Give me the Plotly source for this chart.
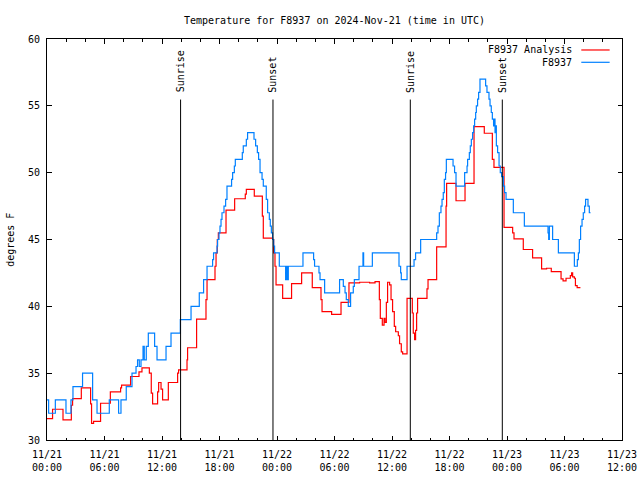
import plotly.graph_objects as go

# ---------------- data ----------------
title_text = "Temperature for F8937 on 2024-Nov-21 (time in UTC)"
y_label = "degrees F"

# hours since 2024-11-21 00:00 UTC
obs_hours = [0.0, 0.17, 0.87, 1.98, 2.50, 2.71, 3.71, 4.76, 5.22, 6.50, 7.47, 7.72, 8.27, 8.87,
             9.29, 9.45, 9.63, 9.81, 10.02, 10.15, 10.36, 10.57, 11.23, 11.48, 12.42, 12.94,
             13.91, 15.03, 15.89, 16.34, 16.70, 17.28, 17.38, 17.74, 17.80, 17.95, 18.05, 18.16,
             18.26, 18.47, 18.64, 18.78, 19.26, 19.37, 19.55, 19.65, 20.38, 20.48, 20.80, 20.93,
             21.60, 21.77, 21.95, 22.08, 22.23, 22.44, 22.57, 22.88, 23.02, 23.20, 23.30, 23.41,
             23.54, 23.65, 23.75, 24.24, 24.90, 25.00, 25.08, 25.18, 26.71, 27.82, 27.92, 28.38,
             28.49, 28.97, 30.53, 30.92, 31.10, 31.23, 31.44, 31.68, 31.96, 32.07, 32.56, 32.97,
             33.04, 33.95, 36.73, 36.90, 36.97, 37.57, 38.30, 38.46, 38.99, 40.66, 40.80, 40.94,
             41.11, 41.22, 41.35, 41.46, 41.59, 41.67, 42.37, 42.53, 42.68, 43.58, 43.83, 43.89,
             44.07, 44.17, 44.28, 44.41, 44.52, 44.62, 44.73, 44.80, 44.93, 45.04, 45.18, 45.77,
             45.91, 46.12, 46.23, 46.36, 46.47, 46.60, 46.68, 46.75, 46.81, 46.89, 47.02, 47.17,
             47.30, 47.44, 47.62, 47.75, 47.90, 48.66, 49.81, 52.28, 52.35, 52.42, 52.76, 53.36,
             55.03, 55.34, 55.45, 55.55, 55.68, 55.83, 55.96, 56.10, 56.20, 56.45, 56.59, 56.72]
obs_temps = [33, 32, 33, 32, 33, 34, 35, 33, 32, 33, 32, 33, 34, 35,
             35.5, 36, 35.5, 36, 37, 36, 37, 38, 37, 36, 37, 38,
             39, 40, 41, 42, 43, 43.5, 44, 44.5, 45, 45.5, 46, 46.5,
             47, 47.5, 48, 49, 49.5, 50, 50.5, 51, 51.5, 52, 52.5, 53,
             52.5, 52, 51.5, 51, 50, 49.5, 49, 48, 47, 46.5, 46, 45.5,
             45, 44.5, 44, 43, 42, 43, 42, 43, 44, 43.5, 43, 42.5,
             42, 41, 42, 41.5, 41, 40.5, 40, 41, 41.5, 42, 43, 44,
             43, 44, 43, 42.5, 42, 43, 43.5, 44, 45, 45.5, 46, 47,
             47.5, 48, 48.5, 49.5, 50, 51, 50.5, 50, 49, 50, 50.5, 51,
             51.5, 52, 52.5, 53, 53.5, 54, 54.5, 55, 55.5, 56, 57, 56.5,
             56, 55.5, 55, 54.5, 54, 53.5, 54, 53, 53.5, 52, 51.5, 50.5,
             50, 49.7, 49, 48.5, 48, 47, 46, 45.5, 45, 46, 45, 44,
             43, 43.5, 44, 45, 46, 46.5, 47, 47.5, 48, 47.5, 47, 47]

ana_hours = [0.0, 0.58, 1.67, 2.54, 2.67, 3.58, 4.55, 4.65, 4.86, 5.59, 6.61, 7.68, 7.78, 8.72,
             9.60, 9.91, 10.68, 10.88, 11.02, 11.54, 11.65, 11.90, 12.06, 12.66, 13.63, 13.73,
             14.61, 14.67, 15.61, 16.59, 16.70, 17.53, 17.64, 17.77, 17.88, 18.68, 19.58, 20.69,
             20.80, 21.63, 22.47, 22.57, 23.54, 23.65, 23.79, 23.90, 24.59, 25.52, 26.57, 27.68,
             28.59, 28.70, 29.70, 30.68, 31.51, 32.62, 33.66, 34.23, 34.68, 34.78, 34.99, 35.17,
             35.27, 35.41, 35.54, 35.75, 35.90, 36.06, 36.24, 36.38, 36.66, 36.79, 36.97, 37.11,
             37.57, 38.12, 38.22, 38.36, 38.46, 38.57, 38.67, 39.65, 39.76, 40.66, 41.64, 41.70,
             42.68, 43.62, 44.56, 45.63, 46.47, 46.64, 47.69, 48.59, 48.73, 49.70, 50.67, 51.61,
             52.13, 52.62, 53.64, 53.85, 54.16, 54.61, 54.74, 54.85, 55.03, 55.14, 55.32, 55.66]
ana_temps = [31.6, 32.3, 31.5, 32.6, 33.1, 33.9, 32.7, 31.25, 31.4, 32.75, 33.6, 33.9, 34.1, 34.75,
             35.1, 35.4, 35.0, 33.5, 32.7, 33.6, 34.3, 33.8, 33.0, 34.3, 35.0, 35.25,
             36.0, 36.9, 39.05, 40.5, 42.0, 43.0, 44.0, 45.0, 45.5, 47.2, 48.05, 48.4,
             48.75, 48.25, 46.75, 45.1, 45.0, 44.0, 43.0, 41.6, 40.6, 41.7, 42.5, 41.4,
             40.5, 39.6, 39.4, 40.3, 41.75, 41.8, 41.75, 41.85, 40.5, 39.1, 38.6, 39.1,
             38.8, 40.3, 41.8, 41.6, 40.5, 39.6, 38.5, 38.1, 37.8, 37.2, 36.6, 36.45,
             40.6, 39.5, 38.0, 37.5, 38.2, 39.5, 40.6, 41.3, 42.0, 44.45, 47.5, 49.2,
             47.9, 49.2, 53.45, 52.95, 51.0, 50.4, 45.9, 45.5, 45.05, 44.25, 43.63, 42.8,
             42.85, 42.6, 42.05, 41.9, 42.1, 42.3, 42.5, 42.2, 42.1, 41.55, 41.4, 41.4]

sun_hours = [13.94, 23.58, 37.91, 47.51]
sun_labels = ["Sunrise", "Sunset", "Sunrise", "Sunset"]

x_tick_vals = [0, 6, 12, 18, 24, 30, 36, 42, 48, 54, 60]
x_tick_text = ["11/21<br>00:00", "11/21<br>06:00", "11/21<br>12:00", "11/21<br>18:00",
               "11/22<br>00:00", "11/22<br>06:00", "11/22<br>12:00", "11/22<br>18:00",
               "11/23<br>00:00", "11/23<br>06:00", "11/23<br>12:00"]
y_tick_vals = [30, 35, 40, 45, 50, 55, 60]

series_names = ["F8937 Analysis", "F8937"]
series_colors = ["#ff0000", "#0080ff"]

# ---------------- figure ----------------
FONT = "DejaVu Sans Mono"
fig = go.Figure()
fig.add_trace(go.Scatter(x=ana_hours, y=ana_temps, mode="lines", line_shape="hv",
                         line=dict(color=series_colors[0], width=1.2), name=series_names[0],
                         hoverinfo="skip"))
fig.add_trace(go.Scatter(x=obs_hours, y=obs_temps, mode="lines", line_shape="hv",
                         line=dict(color=series_colors[1], width=1.2), name=series_names[1],
                         hoverinfo="skip"))

for h, lab in zip(sun_hours, sun_labels):
    fig.add_shape(type="line", xref="x", yref="paper", x0=h, x1=h, y0=0, y1=0.849,
                  line=dict(color="black", width=1))
    fig.add_annotation(x=h, xref="x", y=0.861, yref="paper", text=lab, textangle=-90,
                       showarrow=False, xanchor="center", yanchor="bottom",
                       font=dict(family=FONT, size=10, color="black"))

# manual gnuplot-style key
key_rows = [0.9726, 0.9419]
for name, col, ky in zip(series_names, series_colors, key_rows):
    fig.add_annotation(x=0.9158, xref="paper", y=ky, yref="paper", text=name,
                       showarrow=False, xanchor="right", yanchor="middle",
                       font=dict(family=FONT, size=10, color="black"))
    fig.add_shape(type="line", xref="paper", yref="paper", x0=0.9292, x1=0.9785,
                  y0=ky, y1=ky, line=dict(color=col, width=1.2))

fig.add_annotation(x=-0.0638, xref="paper", y=0.5, yref="paper", text=y_label,
                   textangle=-90, showarrow=False, xanchor="center", yanchor="middle",
                   font=dict(family=FONT, size=10, color="black"))

fig.update_layout(
    width=640, height=480,
    margin=dict(l=47, r=18, t=39, b=40, autoexpand=False),
    paper_bgcolor="white", plot_bgcolor="white",
    showlegend=False,
    hovermode=False,
    font=dict(family=FONT, size=10, color="black"),
    title=dict(text=title_text, x=0.5, xref="paper", xanchor="center",
               y=1 - 20 / 480, yref="container", yanchor="middle",
               font=dict(family=FONT, size=10, color="black")),
)
fig.update_xaxes(range=[0, 60], tickmode="array", tickvals=x_tick_vals, ticktext=x_tick_text,
                 ticks="inside", ticklen=4.5, tickcolor="black", showline=True, linecolor="black",
                 linewidth=1, mirror="allticks", showgrid=False, zeroline=False,
                 automargin=False, ticklabelstandoff=5,
                 minor=dict(tickmode="linear", tick0=0, dtick=2, ticks="inside", ticklen=2.5,
                            tickcolor="black", showgrid=False),
                 tickfont=dict(family=FONT, size=10, color="black"))
fig.update_yaxes(range=[30, 60], tickmode="array", tickvals=y_tick_vals,
                 ticks="inside", ticklen=4.5, tickcolor="black", showline=True, linecolor="black",
                 linewidth=1, mirror="allticks", showgrid=False, zeroline=False,
                 automargin=False, ticklabelstandoff=4,
                 tickfont=dict(family=FONT, size=10, color="black"))

# remove the browser's default 8px body margin so the 640x480 figure fills the window
fig.write_html("out.html", config={"displayModeBar": False, "staticPlot": True},
               post_script="document.body.style.margin='0px';")
